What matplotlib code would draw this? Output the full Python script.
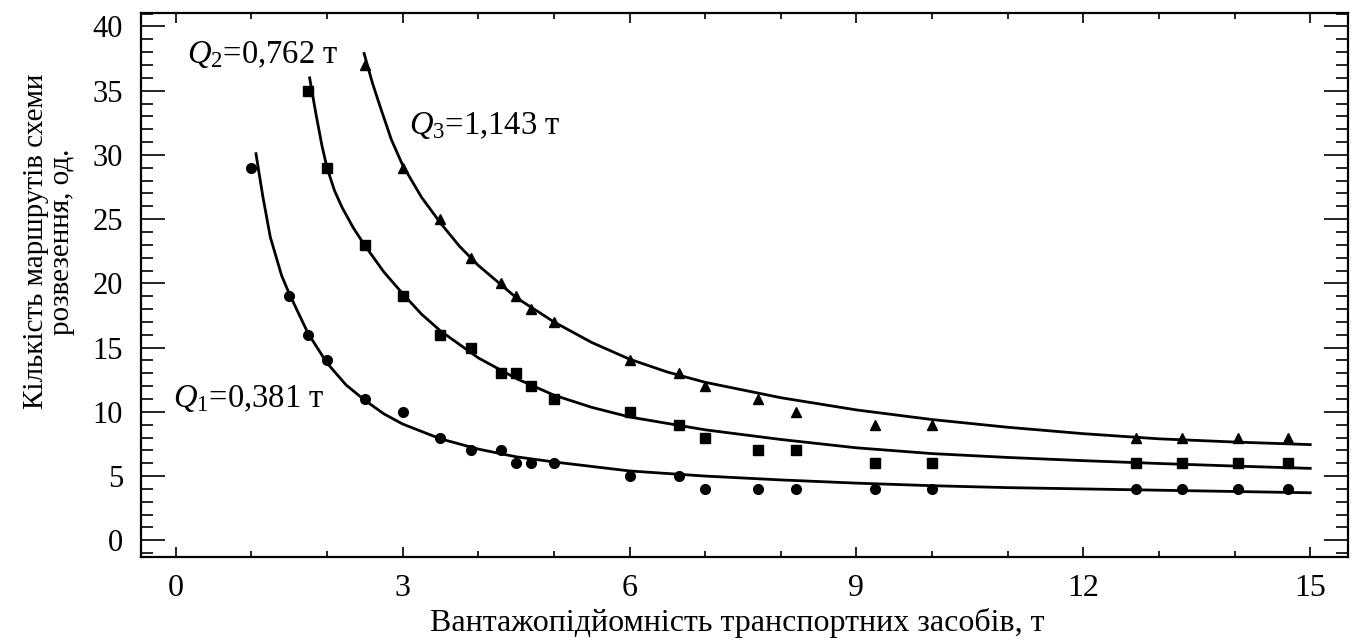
import matplotlib
matplotlib.use("Agg")
import matplotlib.pyplot as plt
from matplotlib.ticker import MultipleLocator

plt.rcParams['font.family'] = ['Liberation Serif', 'DejaVu Serif']
plt.rcParams['mathtext.fontset'] = 'custom'
plt.rcParams['mathtext.rm'] = 'Liberation Serif'
plt.rcParams['mathtext.it'] = 'Liberation Serif:italic'

# measured points: Q1 = 0.381 t (circles)
q1_x = [1.0, 1.5, 1.75, 2.0, 2.5, 3.0, 3.5, 3.9, 4.3, 4.5, 4.7, 5.0, 6.0, 6.65,
        7.0, 7.7, 8.2, 9.25, 10.0, 12.7, 13.3, 14.05, 14.7]
q1_y = [29, 19, 16, 14, 11, 10, 8, 7, 7, 6, 6, 6, 5, 5,
        4, 4, 4, 4, 4, 4, 4, 4, 4]

# Q2 = 0.762 t (squares)
q2_x = [1.75, 2.0, 2.5, 3.0, 3.5, 3.9, 4.3, 4.5, 4.7, 5.0, 6.0, 6.65, 7.0,
        7.7, 8.2, 9.25, 10.0, 12.7, 13.3, 14.05, 14.7]
q2_y = [35, 29, 23, 19, 16, 15, 13, 13, 12, 11, 10, 9, 8,
        7, 7, 6, 6, 6, 6, 6, 6]

# Q3 = 1.143 t (triangles)
q3_x = [2.5, 3.0, 3.5, 3.9, 4.3, 4.5, 4.7, 5.0, 6.0, 6.65, 7.0, 7.7, 8.2,
        9.25, 10.0, 12.7, 13.3, 14.05, 14.7]
q3_y = [37, 29, 25, 22, 20, 19, 18, 17, 14, 13, 12, 11, 10,
        9, 9, 8, 8, 8, 8]

# approximating curves
c1_x = [1.06, 1.15, 1.25, 1.4, 1.5, 1.75, 2.0, 2.25, 2.5, 2.75, 3.0, 3.5, 4.0,
        4.5, 5.0, 6.0, 7.0, 8.0, 9.0, 10.0, 11.0, 12.0, 13.0, 14.0, 15.0]
c1_y = [30.1, 26.8, 23.6, 20.6, 19.2, 16.1, 13.8, 12.1, 10.9, 9.85, 9.05, 7.9, 7.1,
        6.5, 6.1, 5.4, 5.0, 4.7, 4.45, 4.25, 4.1, 4.0, 3.9, 3.8, 3.7]

c2_x = [1.77, 1.85, 1.93, 2.0, 2.1, 2.2, 2.35, 2.5, 2.75, 3.0, 3.25, 3.5, 4.0,
        4.5, 5.0, 5.5, 6.0, 7.0, 8.0, 9.0, 10.0, 11.0, 12.0, 13.0, 14.0, 15.0]
c2_y = [36.0, 33.3, 30.8, 29.0, 27.2, 25.9, 24.3, 22.95, 20.9, 19.2, 17.6, 16.3, 14.2,
        12.6, 11.3, 10.35, 9.6, 8.6, 7.85, 7.2, 6.75, 6.45, 6.2, 5.98, 5.78, 5.6]

c3_x = [2.49, 2.6, 2.7, 2.85, 3.0, 3.25, 3.5, 3.75, 4.0, 4.5, 5.0, 5.5, 6.0,
        6.5, 7.0, 8.0, 9.0, 10.0, 11.0, 12.0, 13.0, 14.0, 15.0]
c3_y = [37.9, 35.6, 33.8, 31.2, 29.2, 26.7, 24.7, 22.9, 21.4, 18.9, 17.0, 15.4, 14.1,
        13.1, 12.3, 11.1, 10.15, 9.4, 8.8, 8.3, 7.9, 7.65, 7.45]

fig = plt.figure(figsize=(13.57, 6.44), dpi=100)
ax = fig.add_axes([0.1039, 0.1351, 0.8895, 0.8447])

for cx, cy in [(c1_x, c1_y), (c2_x, c2_y), (c3_x, c3_y)]:
    ax.plot(cx, cy, color='black', lw=2.0)

ax.plot(q1_x, q1_y, 'o', color='black', ms=7, ls='none')
ax.plot(q2_x, q2_y, 's', color='black', ms=6.8, ls='none')
ax.plot(q3_x, q3_y, '^', color='black', ms=7, ls='none')

ax.text(0.15, 37.8, r'$Q_2$=0,762 т', fontsize=23.5, va='center', ha='left')
ax.text(3.09, 32.3, r'$Q_3$=1,143 т', fontsize=23.5, va='center', ha='left')
ax.text(-0.04, 11.05, r'$Q_1$=0,381 т', fontsize=23.5, va='center', ha='left')

ax.set_xlim(-0.46, 15.5)
ax.set_ylim(-1.3, 41.05)
ax.xaxis.set_major_locator(MultipleLocator(3))
ax.xaxis.set_minor_locator(MultipleLocator(1))
ax.yaxis.set_major_locator(MultipleLocator(5))
ax.yaxis.set_minor_locator(MultipleLocator(1))

ax.tick_params(axis='x', which='major', direction='in', top=True, length=7.5,
               width=1.2, labelsize=23, pad=12)
ax.tick_params(axis='x', which='minor', direction='in', top=True, length=4, width=1.2)
ax.tick_params(axis='y', which='major', direction='in', right=True, length=17,
               width=1.2, labelsize=22, pad=13)
ax.tick_params(axis='y', which='minor', direction='in', right=True, length=8.5, width=1.2)
for sp in ax.spines.values():
    sp.set_linewidth(1.6)

fig.text(0.543, 0.032, 'Вантажопідйомність транспортних засобів, т', fontsize=23,
         ha='center', va='center')
fig.text(0.036, 0.625, 'Кількість маршрутів схеми\nрозвезення, од.', rotation=90,
         fontsize=21, ha='center', va='center', linespacing=1.0, multialignment='center')

fig.savefig('out.png', dpi=100)
